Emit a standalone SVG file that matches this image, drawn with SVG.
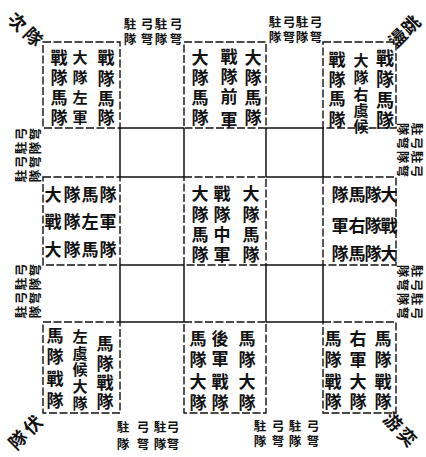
<svg xmlns="http://www.w3.org/2000/svg" width="426" height="457" viewBox="0 0 426 457">
<style>
.c{font-family:"Noto Sans CJK TC","Noto Sans CJK SC",sans-serif;font-weight:700;fill:#111;text-anchor:middle;dominant-baseline:central}
.f17{font-size:17px}
.f15{font-size:15px}
.f18{font-size:18px}
.lb{font-size:12.5px}
.cr{font-size:18px}
.blk{fill:none;stroke:#111;stroke-width:1.4;stroke-dasharray:8 2.5}
.sl{stroke:#111;stroke-width:1.5;fill:none}
</style>
<rect width="426" height="457" fill="#fff"/>
<g id="connectors">
  <rect class="blk" x="43" y="42" width="77" height="86"/>
  <rect class="blk" x="184" y="42" width="82" height="86"/>
  <rect class="blk" x="323" y="42" width="73" height="86"/>
  <rect class="blk" x="43" y="177" width="77" height="88"/>
  <rect class="blk" x="184" y="177" width="82" height="88"/>
  <rect class="blk" x="323" y="177" width="73" height="88"/>
  <rect class="blk" x="43" y="322" width="77" height="91"/>
  <rect class="blk" x="184" y="322" width="82" height="91"/>
  <rect class="blk" x="323" y="322" width="73" height="91"/>
  <path class="sl" d="M120 128V177M184 128V177M266 128V177M323 128V177M120 265V322M184 265V322M266 265V322M323 265V322"/>
  <path class="sl" d="M120 128H184M266 128H323M120 177H184M266 177H323M120 265H184M266 265H323M120 322H184M266 322H323"/>
</g>
<g id="block-top-left">
  <text class="c f17" x="59 59 59 59" y="56 76 96 116">戰隊馬隊</text>
  <text class="c f15" x="80 80 80 80" y="56 76 96 116">大隊左軍</text>
  <text class="c f17" x="106 106 106 106" y="56 77 97 116">戰隊馬隊</text>
</g>
<g id="block-top-middle">
  <text class="c f17" x="200 200 200 200" y="56 76 96 116">大隊馬隊</text>
  <text class="c f17" x="229 229 229 229" y="55 75 95 118">戰隊前軍</text>
  <text class="c f17" x="253 253 253 253" y="56 76 96 116">大隊馬隊</text>
</g>
<g id="block-top-right">
  <text class="c f17" x="337 337 337 337" y="58 78 97 118">戰隊馬隊</text>
  <text class="c f15" x="361 361 361 361 361" y="59 76 93 109 125">大隊右虞候</text>
  <text class="c f18" x="385 385 385 385" y="57 78 99 119">戰隊馬隊</text>
</g>
<g id="block-middle-left">
  <text class="c f17" x="53 72 90 108" y="193">大隊馬隊</text>
  <text class="c f17" x="53 72 90 108" y="220">戰隊左軍</text>
  <text class="c f17" x="53 72 90 108" y="248">大隊馬隊</text>
</g>
<g id="block-center">
  <text class="c f17" x="200 200 200 200" y="192 213 233 253">大隊馬隊</text>
  <text class="c f17" x="222 222 222 222" y="192 213 233 253">戰隊中軍</text>
  <text class="c f17" x="251 251 251 251" y="192 213 233 253">大隊馬隊</text>
</g>
<g id="block-middle-right">
  <text class="c f17" x="389 373 357 340" y="193">大隊馬隊</text>
  <text class="c f17" x="389 373 357 340" y="224">戰隊右軍</text>
  <text class="c f17" x="389 373 357 340" y="252">大隊馬隊</text>
</g>
<g id="block-bottom-left">
  <text class="c f17" x="55 55 55 55" y="334 355 377 399">馬隊戰隊</text>
  <text class="c f15" x="80 80 80 80 80" y="335 352 368 385 402">左虞候大隊</text>
  <text class="c f17" x="105 105 105 105" y="342 362 381 400">馬隊戰隊</text>
</g>
<g id="block-bottom-middle">
  <text class="c f17" x="198 198 198 198" y="337 358 380 401">馬隊大隊</text>
  <text class="c f17" x="220 220 220 220" y="337 357 380 401">後軍戰隊</text>
  <text class="c f17" x="247 247 247 247" y="337 358 380 401">馬隊大隊</text>
</g>
<g id="block-bottom-right">
  <text class="c f17" x="333 333 333 333" y="337 358 380 400">馬隊戰隊</text>
  <text class="c f17" x="358 358 358 358" y="337 358 380 400">右軍大隊</text>
  <text class="c f17" x="383 383 383 383" y="337 358 380 400">馬隊戰隊</text>
</g>
<g id="label-top-left">
  <text class="c lb" x="130 130" y="23 38">駐隊</text>
  <text class="c lb" x="147 147" y="23 38">弓弩</text>
  <text class="c lb" x="161 161" y="23 38">駐隊</text>
  <text class="c lb" x="176 176" y="23 38">弓弩</text>
</g>
<g id="label-top-right">
  <text class="c lb" x="275 275" y="21 36">駐隊</text>
  <text class="c lb" x="289 289" y="21 36">弓弩</text>
  <text class="c lb" x="302 302" y="21 36">駐隊</text>
  <text class="c lb" x="316 316" y="21 36">弓弩</text>
</g>
<g id="label-bottom-left">
  <text class="c lb" x="123 123" y="426 443">駐隊</text>
  <text class="c lb" x="143 143" y="426 443">弓弩</text>
  <text class="c lb" x="160 160" y="426 443">駐隊</text>
  <text class="c lb" x="173 173" y="426 443">弓弩</text>
</g>
<g id="label-bottom-right">
  <text class="c lb" x="260 260" y="425 440">駐隊</text>
  <text class="c lb" x="278 278" y="425 440">弓弩</text>
  <text class="c lb" x="295 295" y="425 440">駐隊</text>
  <text class="c lb" x="313 313" y="425 440">弓弩</text>
</g>
<g id="label-left-upper" transform="translate(27 155) rotate(-90)">
  <text class="c lb" x="-21 -21" y="-7 7">駐隊</text>
  <text class="c lb" x="-7 -7" y="-7 7">弓弩</text>
  <text class="c lb" x="7 7" y="-7 7">駐隊</text>
  <text class="c lb" x="21 21" y="-7 7">弓弩</text>
</g>
<g id="label-left-lower" transform="translate(27 291) rotate(-90)">
  <text class="c lb" x="-21 -21" y="-7 7">駐隊</text>
  <text class="c lb" x="-7 -7" y="-7 7">弓弩</text>
  <text class="c lb" x="7 7" y="-7 7">駐隊</text>
  <text class="c lb" x="21 21" y="-7 7">弓弩</text>
</g>
<g id="label-right-upper" transform="translate(410 150) rotate(90)">
  <text class="c lb" x="-21 -21" y="-7 7">駐隊</text>
  <text class="c lb" x="-7 -7" y="-7 7">弓弩</text>
  <text class="c lb" x="7 7" y="-7 7">駐隊</text>
  <text class="c lb" x="21 21" y="-7 7">弓弩</text>
</g>
<g id="label-right-lower" transform="translate(410 292) rotate(90)">
  <text class="c lb" x="-21 -21" y="-7 7">駐隊</text>
  <text class="c lb" x="-7 -7" y="-7 7">弓弩</text>
  <text class="c lb" x="7 7" y="-7 7">駐隊</text>
  <text class="c lb" x="21 21" y="-7 7">弓弩</text>
</g>
<g id="corner-top-left">
  <text class="c cr" transform="translate(18 21) rotate(45)">次</text>
  <text class="c cr" transform="translate(34 36) rotate(45)">隊</text>
</g>
<g id="corner-top-right">
  <text class="c cr" transform="translate(410 24) rotate(-45)">跳</text>
  <text class="c cr" transform="translate(397 37) rotate(-45)">盪</text>
</g>
<g id="corner-bottom-left">
  <text class="c cr" transform="translate(32 424) rotate(-45)">伏</text>
  <text class="c cr" transform="translate(17 439) rotate(-45)">隊</text>
</g>
<g id="corner-bottom-right">
  <text class="c cr" transform="translate(394 421) rotate(45)">游</text>
  <text class="c cr" transform="translate(408 436) rotate(45)">奕</text>
</g>
</svg>
